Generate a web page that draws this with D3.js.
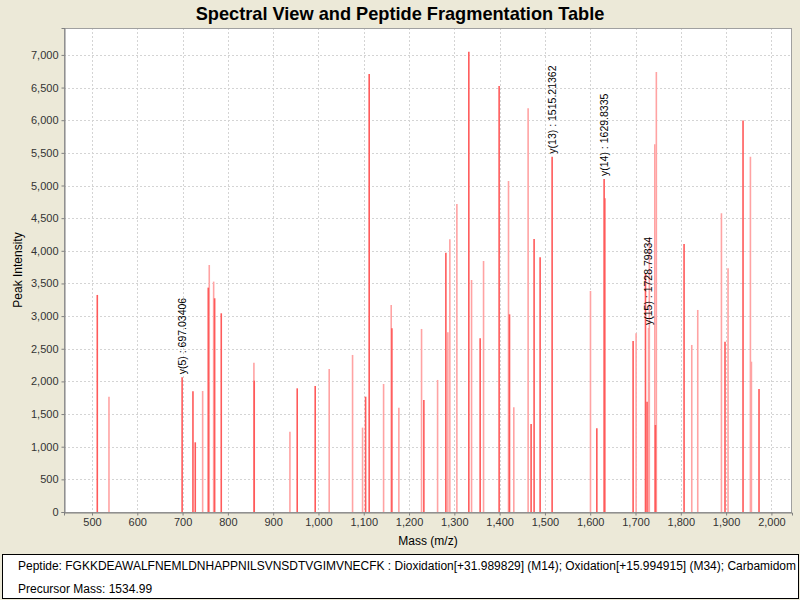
<!DOCTYPE html>
<html>
<head>
<meta charset="utf-8">
<script src="https://cdn.jsdelivr.net/npm/d3@7"></script>
<style>
  body { margin: 0; background: #ECE9D8; }
  svg { display: block; }
  text { font-family: "Liberation Sans", Arial, sans-serif; }
</style>
</head>
<body>
<svg id="chart" width="800" height="600"></svg>
<script>
// ---- Data ----
const peakMass = [
  511.7, 537.5, 699.0, 722.9, 728.0, 744.3, 756.7, 758.9, 768.6, 770.8, 785.4,
  857.5, 858.2, 937.0, 953.1, 992.8, 1023.7, 1075.3, 1097.4, 1104.1, 1112.0,
  1143.8, 1160.6, 1162.1, 1177.5, 1227.6, 1232.7, 1263.0,
  1281.3, 1285.7, 1290.1, 1305.6, 1332.0, 1338.0, 1357.0, 1364.5, 1398.9,
  1419.6, 1421.8, 1431.3, 1462.9, 1469.5, 1476.1, 1489.4, 1515.9,
  1600.6, 1614.6, 1630.7, 1632.2,
  1694.7, 1701.3, 1722.0, 1725.5, 1728.8, 1730.5, 1742.6, 1744.0, 1746.0,
  1807.2, 1824.2, 1837.4, 1889.7, 1897.6, 1904.3, 1937.4, 1953.7, 1955.9, 1972.7
];
const peakIntensity = [
  3324, 1766, 2063, 1848, 1067, 1853, 3436, 3783, 3528, 3273, 3043,
  2287, 2011, 1230, 1894, 1930, 2190, 2405, 1292, 1766, 6708,
  1960, 3170, 2813, 1598, 2803, 1715, 2022,
  3972, 2752, 4176, 4717, 7050, 3553, 2660, 3844, 6525,
  5070, 3027, 1603, 6183, 1348, 4181, 3901, 5442,
  3385, 1282, 5100, 4804,
  2619, 2737, 3650, 1690, 2818, 4192, 5631, 1332, 6739,
  4105, 2558, 3094, 4574, 2609, 3732, 5994, 5442, 2302, 1884
];
// 0 = strong red, 1 = light red
const peakShade = [
  0, 1, 0, 0, 0, 1, 0, 1, 1, 0, 0,
  1, 0, 1, 0, 0, 1, 1, 1, 0, 0,
  1, 1, 0, 1, 1, 0, 1,
  0, 1, 1, 1, 0, 1, 0, 1, 0,
  1, 0, 1, 1, 0, 0, 0, 0,
  1, 0, 0, 0,
  0, 1, 0, 0, 1, 1, 1, 0, 1,
  0, 1, 1, 1, 0, 1, 0, 1, 1, 0
];
const annotationMass = [699.0, 1515.9, 1630.7, 1728.8];
const annotationLabel = ["y(5) : 697.03406", "y(13) : 1515.21362", "y(14) : 1629.8335", "y(15) : 1728.79834"];

const xTicks = d3.range(500, 2001, 100);
const yTicks = d3.range(0, 7001, 500);

const titleText = "Spectral View and Peptide Fragmentation Table";
const xLabel = "Mass (m/z)";
const yLabel = "Peak Intensity";
const peptideLine = "Peptide: FGKKDEAWALFNEMLDNHAPPNILSVNSDTVGIMVNECFK : Dioxidation[+31.989829] (M14); Oxidation[+15.994915] (M34); Carbamidom";
const precursorLine = "Precursor Mass: 1534.99";

// ---- Layout ----
const svg = d3.select("#chart");
const W = 800, H = 600;
const plot = { left: 64, right: 792, top: 28, bottom: 512 };

const x = d3.scaleLinear().domain([438.2, 2045.5]).range([plot.left, plot.right]);
const y = d3.scaleLinear().domain([0, 7412]).range([plot.bottom, plot.top]);

svg.append("rect").attr("width", W).attr("height", H).attr("fill", "#ECE9D8");

// Title
svg.append("text")
  .attr("x", 400).attr("y", 20)
  .attr("text-anchor", "middle")
  .attr("font-size", 18.2).attr("font-weight", "bold")
  .attr("fill", "#000")
  .text(titleText);

// Plot background
svg.append("rect")
  .attr("x", plot.left).attr("y", plot.top)
  .attr("width", plot.right - plot.left).attr("height", plot.bottom - plot.top)
  .attr("fill", "#fff");

// Grid
const grid = svg.append("g").attr("stroke", "#d4d4d4").attr("stroke-dasharray", "2,2").attr("stroke-width", 1);
grid.selectAll("line.vx").data(xTicks).join("line")
  .attr("x1", d => Math.round(x(d)) + 0.5).attr("x2", d => Math.round(x(d)) + 0.5)
  .attr("y1", plot.top).attr("y2", plot.bottom);
grid.selectAll("line.hy").data(yTicks.filter(d => d > 0)).join("line")
  .attr("y1", d => Math.round(y(d)) + 0.5).attr("y2", d => Math.round(y(d)) + 0.5)
  .attr("x1", plot.left).attr("x2", plot.right);

// Peaks
const colors = ["#ff5a5a", "#ffa3a3"];
const order = d3.range(peakMass.length).sort((a, b) => peakShade[b] - peakShade[a]);
svg.append("g").selectAll("line").data(order).join("line")
  .attr("x1", i => x(peakMass[i])).attr("x2", i => x(peakMass[i]))
  .attr("y1", plot.bottom).attr("y2", i => y(peakIntensity[i]))
  .attr("stroke", i => colors[peakShade[i]])
  .attr("stroke-width", 1.6);

// Annotations
function nearestPeak(m) {
  let best = 0;
  peakMass.forEach((pm, i) => { if (Math.abs(pm - m) < Math.abs(peakMass[best] - m)) best = i; });
  return best;
}
svg.append("g").selectAll("text").data(annotationMass).join("text")
  .attr("transform", (m, k) => {
    const i = nearestPeak(m);
    return `translate(${x(peakMass[i]) + 3.5},${y(peakIntensity[i]) - 3}) rotate(-90)`;
  })
  .attr("font-size", 10.5)
  .attr("fill", "#000")
  .text((m, k) => annotationLabel[k]);

// Frame
svg.append("rect")
  .attr("x", plot.left + 0.5).attr("y", plot.top + 0.5)
  .attr("width", plot.right - plot.left - 1).attr("height", plot.bottom - plot.top)
  .attr("fill", "none").attr("stroke", "#a0a0a0");

// Axes
const xAxis = d3.axisBottom(x).tickValues(xTicks).tickSize(3).tickPadding(3).tickFormat(d3.format(","));
const yAxis = d3.axisLeft(y).tickValues(yTicks).tickSize(3).tickPadding(3).tickFormat(d3.format(","));

const gx = svg.append("g").attr("transform", `translate(0,${plot.bottom + 0.5})`).call(xAxis);
const gy = svg.append("g").attr("transform", `translate(${plot.left + 0.5},0)`).call(yAxis);
[gx, gy].forEach(g => {
  g.select(".domain").attr("stroke", "#808080");
  g.selectAll(".tick line").attr("stroke", "#808080");
  g.selectAll(".tick text").attr("font-size", 11).attr("fill", "#333")
    .attr("font-family", "\"Liberation Sans\", Arial, sans-serif");
});

// Axis labels
svg.append("text")
  .attr("x", (plot.left + plot.right) / 2).attr("y", 545)
  .attr("text-anchor", "middle").attr("font-size", 12).attr("fill", "#000")
  .text(xLabel);
svg.append("text")
  .attr("transform", `translate(22,${(plot.top + plot.bottom) / 2}) rotate(-90)`)
  .attr("text-anchor", "middle").attr("font-size", 12).attr("fill", "#000")
  .text(yLabel);

// Bottom info box
svg.append("rect")
  .attr("x", 2.5).attr("y", 554.5).attr("width", 796).attr("height", 44)
  .attr("fill", "#fff").attr("stroke", "#000");
const info = svg.append("g");
const pep = info.append("text").attr("x", 18).attr("y", 570).attr("font-size", 12).attr("fill", "#000").text(peptideLine);
// keep the visible (already truncated) line inside the box
const maxW = 796 - 18;
if (pep.node().getComputedTextLength() > maxW) pep.attr("textLength", maxW).attr("lengthAdjust", "spacingAndGlyphs");
info.append("text").attr("x", 18).attr("y", 593).attr("font-size", 12).attr("fill", "#000").text(precursorLine);
</script>
</body>
</html>
